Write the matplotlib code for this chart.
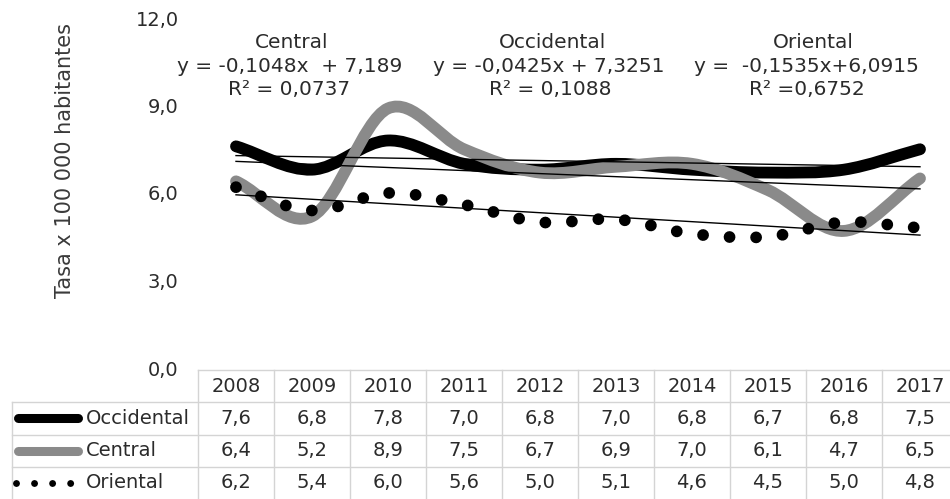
import numpy as np
import matplotlib
matplotlib.use("Agg")
import matplotlib.pyplot as plt
from matplotlib.path import Path
from matplotlib.patches import PathPatch

# ---- data -------------------------------------------------------------
years = ["2008", "2009", "2010", "2011", "2012", "2013", "2014", "2015", "2016", "2017"]
series_names = ["Occidental", "Central", "Oriental"]
occidental = [7.6, 6.8, 7.8, 7.0, 6.8, 7.0, 6.8, 6.7, 6.8, 7.5]
central = [6.4, 5.2, 8.9, 7.5, 6.7, 6.9, 7.0, 6.1, 4.7, 6.5]
oriental = [6.2, 5.4, 6.0, 5.6, 5.0, 5.1, 4.6, 4.5, 5.0, 4.8]

# linear trend y = a*x + b, with x = 1..10
trend_slope = [-0.0425, -0.1048, -0.1535]
trend_intercept = [7.3251, 7.189, 6.0915]
trend_r2 = [0.1088, 0.0737, 0.6752]

y_ticks = [0, 3, 6, 9, 12]

# ---- styling ----------------------------------------------------------
plt.rcParams["font.family"] = ["DejaVu Sans"]
TEXT = "#2b2b2b"
GRID = "#d4d4d4"
colors = ["#000000", "#8a8a8a", "#000000"]

W, H = 950, 499
fig = plt.figure(figsize=(W / 100, H / 100), dpi=100)


def fx(px):
    return px / W


def fy(py):
    return 1 - py / H


def comma(v, nd=1):
    return f"{v:.{nd}f}".replace(".", ",")


COL = 76.0          # column width in pixels
LEFT = 198.0        # left edge of first year column
RIGHT = LEFT + COL * len(years)

ax = fig.add_axes([fx(LEFT), fy(368), (RIGHT - LEFT) / W, 350 / H])
ax.set_xlim(-0.5, len(years) - 0.5)
ax.set_ylim(0, 12)
for s in ax.spines.values():
    s.set_visible(False)
ax.set_xticks([])
ax.set_yticks(y_ticks)
ax.set_yticklabels([comma(v) for v in y_ticks], fontsize=14, color=TEXT)
ax.tick_params(axis="y", length=0, pad=14)
ax.patch.set_alpha(0)


def smooth_path(xs, ys):
    """Bezier path through the points, with spreadsheet-style smoothing."""
    pts = ax.transData.transform(np.column_stack([xs, ys]))
    n = len(pts)
    verts = [pts[0]]
    codes = [Path.MOVETO]
    for i in range(n - 1):
        p1, p2 = pts[i], pts[i + 1]
        p0 = pts[i - 1] if i > 0 else p1
        p3 = pts[i + 2] if i + 2 < n else p2
        f = 1 / 6 if i > 0 else 1 / 3
        g = 1 / 6 if i + 2 < n else 1 / 3
        d12 = np.hypot(*(p2 - p1))
        d02 = np.hypot(*(p2 - p0))
        d13 = np.hypot(*(p3 - p1))
        if d02 > 0:
            f = min(f, 0.5 * d12 / d02)
        if d13 > 0:
            g = min(g, 0.5 * d12 / d13)
        b1 = p1 + f * (p2 - p0)
        b2 = p2 - g * (p3 - p1)
        verts += [b1, b2, p2]
        codes += [Path.CURVE4] * 3
    verts = ax.transData.inverted().transform(np.array(verts))
    return Path(verts, codes)


xs = np.arange(len(years))
values = [occidental, central, oriental]
widths = [8.5, 8.5, 8.5]
styles = ["solid", "solid", (0, (0.0001, 2.25))]
for k, (vals, c, lw, ls) in enumerate(zip(values, colors, widths, styles)):
    patch = PathPatch(smooth_path(xs, vals), facecolor="none", edgecolor=c,
                      lw=lw, linestyle=ls, capstyle="round", joinstyle="round",
                      zorder=2 + k)
    ax.add_patch(patch)

# trend lines
xt = xs + 1
for a, b in zip(trend_slope, trend_intercept):
    ax.plot(xs, a * xt + b, color="black", lw=1.0, zorder=6)

# trend labels
label_pos = {"Central": (292, 42, 290, 67, 289, 89),
             "Occidental": (552, 42, 549, 67, 550, 89),
             "Oriental": (813, 42, 806, 67, 807, 89)}
eq_fmt = {"Central": "y = {a}x  + {b}",
          "Occidental": "y = {a}x + {b}",
          "Oriental": "y =  {a}x+{b}"}
r2_fmt = {"Central": "R² = {r}", "Occidental": "R² = {r}", "Oriental": "R² ={r}"}
for name, a, b, r in zip(series_names, trend_slope, trend_intercept, trend_r2):
    x0, y0, x1, y1, x2, y2 = label_pos[name]
    fig.text(fx(x0), fy(y0), name, ha="center", va="center", fontsize=14.5, color=TEXT)
    fig.text(fx(x1), fy(y1), eq_fmt[name].format(a=comma(a, 4), b=comma(b, 4 if name != "Central" else 3)),
             ha="center", va="center", fontsize=14.5, color=TEXT)
    fig.text(fx(x2), fy(y2), r2_fmt[name].format(r=comma(r, 4)),
             ha="center", va="center", fontsize=14.5, color=TEXT)

fig.text(fx(65), fy(161), "Tasa x 100 000 habitantes", rotation=90,
         ha="center", va="center", fontsize=15, color="#3a3a3a")

# ---- data table -------------------------------------------------------
TLEFT = 12.0
tax = fig.add_axes([fx(TLEFT), 0, (RIGHT - TLEFT) / W, (499 - 370) / H])
x_lo = -0.5 - (LEFT - TLEFT) / COL
tax.set_xlim(x_lo, len(years) - 0.5)
tax.set_ylim(0, 4)
tax.axis("off")


def px2x(px):
    return x_lo + (px - TLEFT) / COL


line_kw = dict(color=GRID, lw=1.0, clip_on=False, zorder=1)
tax.plot([-0.5, len(years) - 0.5], [4, 4], **line_kw)
for yy in (3, 2, 1):
    tax.plot([x_lo, len(years) - 0.5], [yy, yy], **line_kw)
tax.plot([x_lo, x_lo], [0, 3], **line_kw)
for k in range(len(years) + 1):
    tax.plot([k - 0.5, k - 0.5], [0, 4], **line_kw)

for i, yr in enumerate(years):
    tax.text(i, 3.5, yr, ha="center", va="center", fontsize=14, color=TEXT)

key_styles = [dict(color="#000000", lw=6.5, solid_capstyle="round"),
              dict(color="#8a8a8a", lw=6.5, solid_capstyle="round"),
              dict(color="#000000", lw=5.0, linestyle=(0, (0.0001, 2.6)),
                   dash_capstyle="round")]
key_span = [(18, 78), (18, 78), (16, 77)]
for r, (name, vals, kst) in enumerate(zip(series_names, values, key_styles)):
    yc = 2.5 - r
    x_a, x_b = key_span[r]
    tax.plot([px2x(x_a), px2x(x_b)], [yc, yc], clip_on=False, **kst)
    tax.text(px2x(86), yc, name, ha="left", va="center", fontsize=14, color=TEXT)
    for i, v in enumerate(vals):
        tax.text(i, yc, comma(v), ha="center", va="center", fontsize=14, color=TEXT)

fig.savefig("out.png", dpi=100)
